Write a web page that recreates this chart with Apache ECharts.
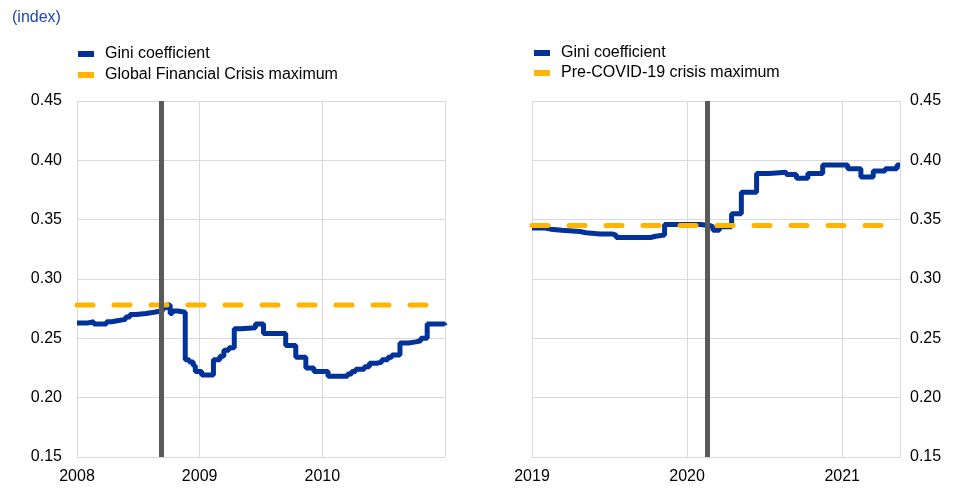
<!DOCTYPE html>
<html>
<head>
<meta charset="utf-8">
<script src="https://cdn.jsdelivr.net/npm/echarts@6/dist/echarts.min.js"></script>
<style>
  html, body { margin: 0; background: #fff; }
  #chart { width: 968px; height: 497px; }
</style>
</head>
<body>
<div id="chart"></div>
<script>
// Global Financial Crisis panel
const gfcDates = ['2008-01-01','2008-02-03','2008-02-20','2008-03-29','2008-04-14','2008-05-04','2008-05-25','2008-06-07','2008-06-25','2008-07-25',
  '2008-08-18','2008-09-06','2008-09-14','2008-09-26','2008-10-05','2008-10-11','2008-10-28','2008-11-19','2008-12-01','2008-12-13',
  '2008-12-19','2009-01-07','2009-02-11','2009-03-02','2009-03-14','2009-03-29','2009-04-14','2009-05-04','2009-06-16','2009-07-10',
  '2009-09-14','2009-10-14','2009-11-13','2009-12-07','2010-01-18','2010-03-17','2010-03-29','2010-04-10','2010-05-06','2010-05-21',
  '2010-06-12','2010-06-27','2010-07-15','2010-07-27','2010-08-20','2010-09-15','2010-10-06','2010-10-21','2010-11-09','2010-12-31']
const gfcGini = [0.263,0.264,0.262,0.264,0.265,0.266,0.268,0.270,0.271,0.272,
  0.273,0.274,0.276,0.278,0.271,0.273,0.272,0.232,0.230,0.227,
  0.222,0.219,0.232,0.235,0.240,0.242,0.258,0.259,0.262,0.254,
  0.244,0.234,0.225,0.222,0.218,0.220,0.222,0.224,0.226,0.229,
  0.230,0.232,0.234,0.236,0.246,0.247,0.248,0.250,0.262,0.261]
const gfcMax = 0.278
const gfcEvent = '2008-09-10'
const gfcYears = [2008, 2011]

// COVID-19 panel
const covidDates = ['2019-01-01','2019-02-01','2019-02-14','2019-03-12','2019-04-24','2019-05-08','2019-06-10','2019-07-08','2019-07-18','2019-09-06',
  '2019-10-07','2019-10-19','2019-11-09','2020-02-01','2020-02-24','2020-03-02','2020-03-17','2020-04-15','2020-05-08','2020-06-13',
  '2020-07-12','2020-08-22','2020-09-15','2020-10-12','2020-11-16','2021-01-14','2021-02-14','2021-03-15','2021-04-12','2021-05-10','2021-05-17']
const covidGini = [0.343,0.342,0.341,0.340,0.339,0.338,0.338,0.337,0.335,0.335,
  0.336,0.337,0.346,0.345,0.344,0.341,0.344,0.355,0.373,0.389,
  0.390,0.388,0.385,0.389,0.396,0.393,0.386,0.391,0.393,0.396,0.396]
const covidMax = 0.345
const covidEvent = '2020-02-16'

const yMin = 0.15, yMax = 0.45, yStep = 0.05

const BLUE = '#003299'
const YELLOW = '#ffb400'
const GREY = '#595959'
const FONT = 'Liberation Sans'

// dates -> fractional years so the value axis can tick on whole years
function toYear(s) {
  const d = new Date(s + 'T00:00:00Z')
  const y = d.getUTCFullYear()
  const start = Date.UTC(y, 0, 1), end = Date.UTC(y + 1, 0, 1)
  return y + (d - start) / (end - start)
}
const pairs = (dates, vals) => dates.map((d, i) => [toYear(d), vals[i]])

const gfcEnd = gfcYears[1]
const covidStart = toYear(covidDates[0])
const covidEnd = toYear(covidDates[covidDates.length - 1])

const splitLine = { show: true, lineStyle: { color: '#d9d9d9', width: 1 } }
const labelStyle = { color: '#000', fontFamily: FONT, fontSize: 16 }

function xAxis(idx, min, max) {
  return {
    type: 'value', gridIndex: idx, min: min, max: max, interval: 1,
    axisLine: { show: true, lineStyle: { color: '#d9d9d9' } },
    axisTick: { show: false },
    splitLine: splitLine,
    axisLabel: Object.assign({ margin: 12, showMaxLabel: false, formatter: v => String(Math.round(v)) }, labelStyle)
  }
}
function yAxis(idx, pos, margin) {
  return {
    type: 'value', gridIndex: idx, position: pos, min: yMin, max: yMax, interval: yStep,
    axisLine: { show: false }, axisTick: { show: false },
    splitLine: splitLine,
    axisLabel: Object.assign({ margin: margin, formatter: v => v.toFixed(2) }, labelStyle)
  }
}
function legend(left, top, gap, names) {
  return {
    left: left, top: top, orient: 'vertical', icon: 'rect', padding: 0,
    itemWidth: 16, itemHeight: 6, itemGap: gap,
    data: names,
    textStyle: { color: '#000', fontFamily: FONT, fontSize: 16, padding: [0, 0, 0, 6] }
  }
}
function giniSeries(idx, data) {
  return {
    name: 'Gini coefficient', type: 'line', xAxisIndex: idx, yAxisIndex: idx,
    data: data, step: 'end', showSymbol: false, z: 2,
    lineStyle: { color: BLUE, width: 5 }, itemStyle: { color: BLUE }
  }
}
function maxSeries(idx, name, x0, x1, v) {
  return {
    name: name, type: 'line', xAxisIndex: idx, yAxisIndex: idx,
    data: [[x0, v], [x1, v]], showSymbol: false, z: 3,
    lineStyle: { color: YELLOW, width: 5, type: [16, 21], cap: 'round' }, itemStyle: { color: YELLOW }
  }
}
function eventSeries(idx, x) {
  return {
    type: 'line', xAxisIndex: idx, yAxisIndex: idx, data: [], z: 4,
    markLine: {
      silent: true, symbol: 'none', animation: false, label: { show: false },
      lineStyle: { color: GREY, width: 5, type: 'solid' },
      data: [{ xAxis: x }]
    }
  }
}

const chart = echarts.init(document.getElementById('chart'))
chart.setOption({
  animation: false,
  title: {
    text: '(index)', left: 12, top: 10, padding: 0,
    textStyle: { color: '#1c47b4', fontFamily: FONT, fontSize: 16, fontWeight: 'normal' }
  },
  legend: [
    legend(78, 46, 5, ['Gini coefficient', 'Global Financial Crisis maximum']),
    legend(534, 45, 4, ['Gini coefficient', 'Pre-COVID-19 crisis maximum'])
  ],
  grid: [
    { left: 77, right: 523, top: 101, bottom: 40 },
    { left: 532, right: 68, top: 101, bottom: 40 }
  ],
  xAxis: [xAxis(0, gfcYears[0], gfcEnd), xAxis(1, covidStart, covidEnd)],
  yAxis: [yAxis(0, 'left', 15), yAxis(1, 'right', 10)],
  series: [
    giniSeries(0, pairs(gfcDates, gfcGini)),
    maxSeries(0, 'Global Financial Crisis maximum', gfcYears[0], gfcEnd, gfcMax),
    eventSeries(0, toYear(gfcEvent)),
    giniSeries(1, pairs(covidDates, covidGini)),
    maxSeries(1, 'Pre-COVID-19 crisis maximum', covidStart, covidEnd, covidMax),
    eventSeries(1, toYear(covidEvent))
  ]
})
</script>
</body>
</html>
